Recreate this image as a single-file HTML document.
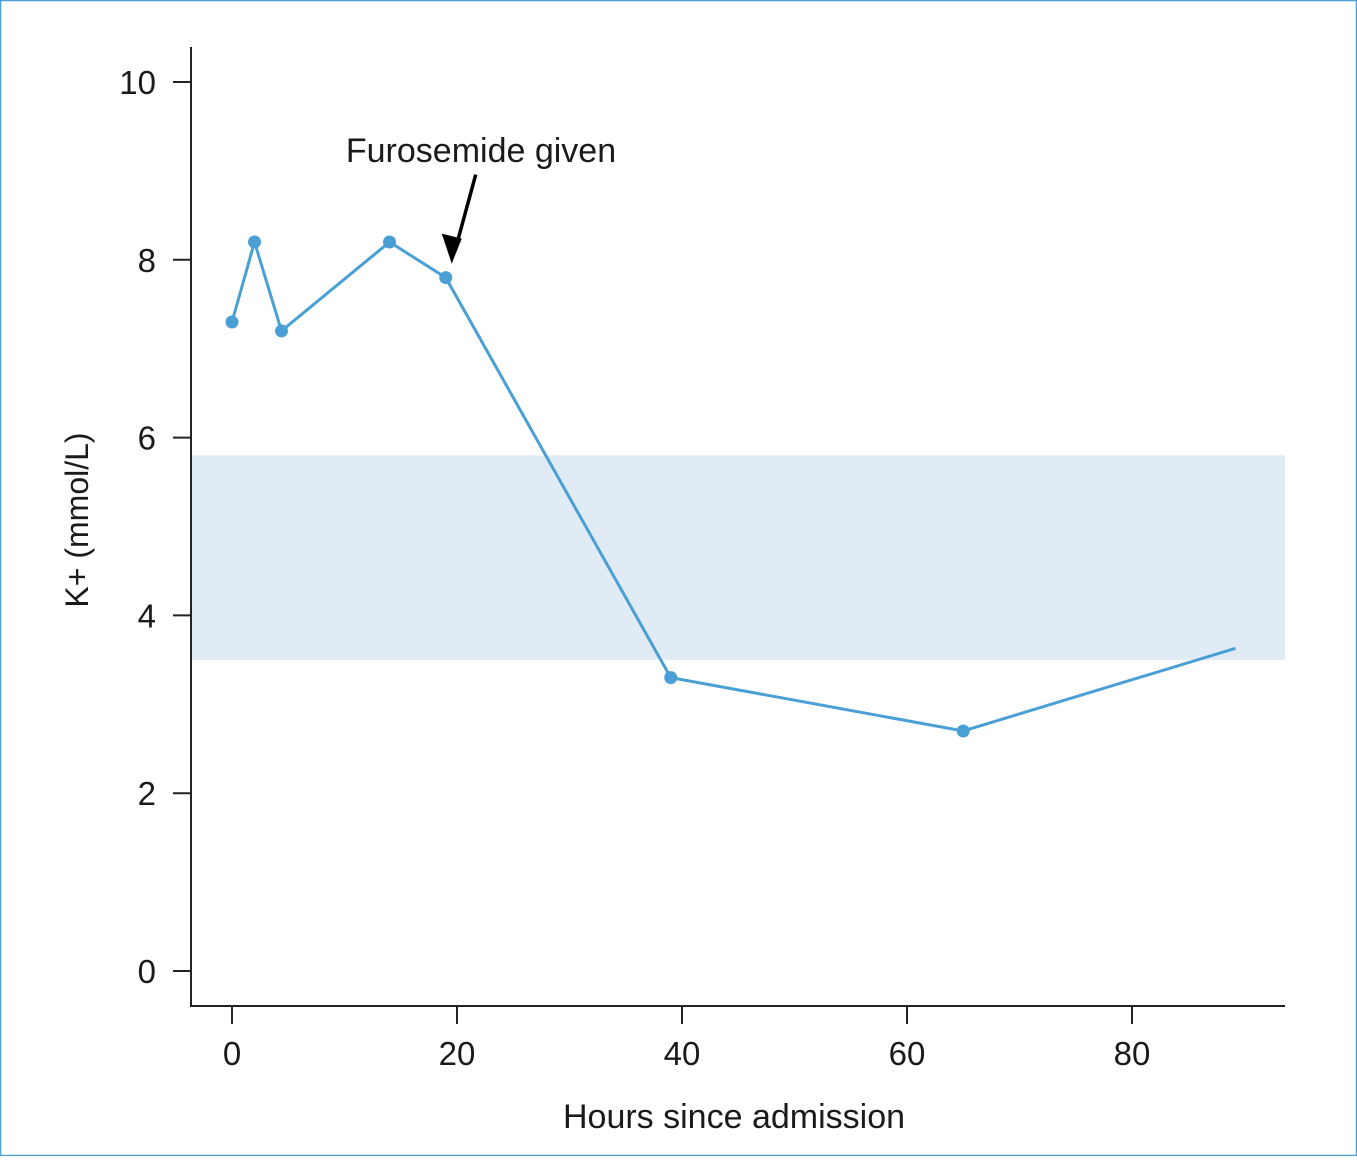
<!DOCTYPE html>
<html><head><meta charset="utf-8"><style>
html,body{margin:0;padding:0;background:#fff}
svg text{font-family:"Liberation Sans",sans-serif;fill:#1a1a1a}
</style></head><body>
<svg width="1357" height="1156" viewBox="0 0 1357 1156" xmlns="http://www.w3.org/2000/svg">
<rect x="0.5" y="0.5" width="1356" height="1155" fill="#fff" stroke="#4a9fd4" stroke-width="1.5"/>
<g id="band"></g>
<g id="axes"></g>
<g id="series"></g>
<text x="481" y="162" font-size="34" text-anchor="middle">Furosemide given</text>
<text x="734" y="1128" font-size="34" text-anchor="middle">Hours since admission</text>
<text transform="translate(88,520) rotate(-90)" font-size="32" text-anchor="middle">K+ (mmol/L)</text>
</svg>
<script>
const hours=[0,2,4.4,14,19,39,65,89.2];
const potassium=[7.3,8.2,7.2,8.2,7.8,3.3,2.7,3.63];
const markers=[true,true,true,true,true,true,true,false];
const xTicks=[0,20,40,60,80];
const yTicks=[0,2,4,6,8,10];
const bandRange=[3.5,5.8];
const annotationHour=19, annotationValue=7.8;

const NS="http://www.w3.org/2000/svg";
const X=v=>232+v*11.25;
const Y=v=>971-v*88.9;
function mk(tag,attrs,parent){const e=document.createElementNS(NS,tag);for(const k in attrs)e.setAttribute(k,attrs[k]);parent.appendChild(e);return e;}
const band=document.getElementById('band'),axes=document.getElementById('axes'),series=document.getElementById('series');

const b=mk('rect',{x:191,y:Y(bandRange[1]),width:1094,height:Y(bandRange[0])-Y(bandRange[1]),fill:'#e0ebf5'},band);



const ya=mk('line',{x1:191,y1:47,x2:191,y2:1006,stroke:'#222','stroke-width':2},axes);


const xa=mk('line',{x1:190,y1:1006,x2:1285,y2:1006,stroke:'#222','stroke-width':2},axes);



yTicks.forEach(t=>{
  const l=mk('line',{x1:173,y1:Y(t),x2:191,y2:Y(t),stroke:'#222','stroke-width':2},axes);
  
  
  const tx=mk('text',{x:156,y:Y(t)+12,'font-size':33,'text-anchor':'end'},axes);
  tx.textContent=t;
  
  
});
xTicks.forEach(t=>{
  const l=mk('line',{x1:X(t),y1:1006,x2:X(t),y2:1024,stroke:'#222','stroke-width':2},axes);
  
  
  const tx=mk('text',{x:X(t),y:1065,'font-size':33,'text-anchor':'middle'},axes);
  tx.textContent=t;
  
  
});

const pts=hours.map((h,i)=>X(h)+','+Y(potassium[i])).join(' ');
const pl=mk('polyline',{points:pts,fill:'none',stroke:'#4a9fd4','stroke-width':3},series);


hours.forEach((h,i)=>{
  if(!markers[i])return;
  const c=mk('circle',{cx:X(h),cy:Y(potassium[i]),r:6.5,fill:'#4a9fd4'},series);
  
  
});

const ax=X(annotationHour)+6, ay=Y(annotationValue)-14;
const ar=mk('line',{x1:ax+24,y1:ay-89,x2:ax+3,y2:ay-12,stroke:'#000','stroke-width':3.5},series);


const head=mk('polygon',{points:`${ax},${ay} ${ax-10},${ay-30} ${ax+10},${ay-25}`,fill:'#000'},series);


</script>
</body></html>
